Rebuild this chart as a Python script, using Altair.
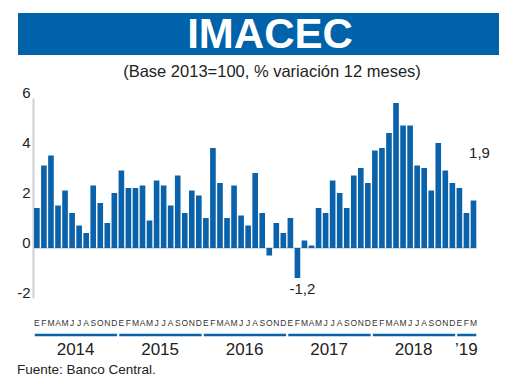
import altair as alt
import pandas as pd

# Monthly IMACEC, % change 12 months, Jan 2014 - Mar 2019
VALUES = [
    1.6, 3.3, 3.7, 1.7, 2.3, 1.4, 0.9, 0.6, 2.5, 1.8, 1.0, 2.2,   # 2014
    3.1, 2.4, 2.4, 2.5, 1.1, 2.7, 2.5, 1.7, 2.9, 1.4, 2.3, 2.1,   # 2015
    1.2, 4.0, 2.6, 1.2, 2.5, 1.3, 0.9, 3.0, 1.4, -0.3, 1.0, 0.6,  # 2016
    1.2, -1.2, 0.3, 0.1, 1.6, 1.4, 2.7, 2.2, 1.6, 2.9, 3.2, 2.6,  # 2017
    3.9, 4.0, 4.6, 5.8, 4.9, 4.9, 3.3, 3.2, 2.3, 4.2, 3.1, 2.6,   # 2018
    2.4, 1.4, 1.9,                                                # 2019
]
MONTH_LETTERS = ["E", "F", "M", "A", "M", "J", "J", "A", "S", "O", "N", "D"]
YEARS = ["2014", "2015", "2016", "2017", "2018", "\u201919"]
YEAR_START = [0, 12, 24, 36, 48, 60]
YEAR_END = [11, 23, 35, 47, 59, 62]
Y_TICKS = [-2, 0, 2, 4, 6]
ANNOT_MIN = {"idx": 37, "label": "-1,2"}
ANNOT_LAST = {"idx": 62, "label": "1,9"}

BLUE = "#0a62ab"
GRAY = "#cfcfcf"
FONT = "Liberation Sans"

df = pd.DataFrame({"idx": list(range(len(VALUES))), "value": VALUES})
df["month"] = [MONTH_LETTERS[i % 12] for i in df.idx]
years = pd.DataFrame({"label": YEARS, "s": YEAR_START, "e": YEAR_END})
one = pd.DataFrame({"a": [0]})

W, H = 444, 200
xscale = alt.Scale(domain=[-0.55, 62.5], nice=False, zero=False)
yscale = alt.Scale(domain=[-2, 6], nice=False)

bars = alt.Chart(df).transform_calculate(
    x0="datum.idx - 0.4", x1="datum.idx + 0.4"
).mark_bar(color=BLUE).encode(
    x=alt.X("x0:Q", scale=xscale, axis=None),
    x2="x1:Q",
    y=alt.Y("value:Q", scale=yscale, axis=alt.Axis(
        values=Y_TICKS, labelExpr="'' + datum.value",
        grid=False, ticks=False, title=None,
        domainColor=GRAY, domainWidth=2,
        labelFont=FONT, labelFontSize=15, labelColor="#222222",
        labelPadding=3, labelOffset=-6)),
    y2=alt.datum(0),
)

months = alt.Chart(df).mark_text(
    font=FONT, fontSize=8.5, color="#333333", baseline="middle"
).encode(x=alt.X("idx:Q", scale=xscale, axis=None), y=alt.value(225), text="month:N")

zero = alt.Chart(one).mark_rule(color=GRAY, strokeWidth=1.5).encode(
    y=alt.datum(0), x=alt.value(0), x2=alt.value(W)
)

ann_min = alt.Chart(df[df.idx == ANNOT_MIN["idx"]]).mark_text(
    text=ANNOT_MIN["label"], font=FONT, fontSize=15, color="#222222",
    baseline="middle", dx=5, dy=11
).encode(x=alt.X("idx:Q", scale=xscale, axis=None), y=alt.Y("value:Q"))

ann_last = alt.Chart(df[df.idx == ANNOT_LAST["idx"]]).mark_text(
    text=ANNOT_LAST["label"], font=FONT, fontSize=15, color="#222222",
    baseline="middle", dx=6, dy=-48
).encode(x=alt.X("idx:Q", scale=xscale, axis=None), y=alt.Y("value:Q"))

ylines = alt.Chart(years).transform_calculate(
    xs="datum.s - 0.3", xe="datum.e + 0.4"
).mark_rule(color=BLUE, strokeWidth=2.5).encode(
    x=alt.X("xs:Q", scale=xscale, axis=None), x2="xe:Q", y=alt.value(237)
)

ylabels = alt.Chart(years).transform_calculate(
    xc="(datum.s + datum.e) / 2"
).mark_text(font=FONT, fontSize=17, color="#222222", baseline="alphabetic").encode(
    x=alt.X("xc:Q", scale=xscale, axis=None), y=alt.value(257), text="label:N"
)

banner = alt.Chart(one).mark_rect(color="#0062a8").encode(
    x=alt.value(-15), x2=alt.value(466), y=alt.value(-85), y2=alt.value(-43)
)
title = alt.Chart(one).mark_text(
    text="IMACEC", font=FONT, fontSize=42, fontWeight="bold", color="white",
    baseline="alphabetic", align="center"
).encode(x=alt.value(237), y=alt.value(-50))
subtitle = alt.Chart(one).mark_text(
    text="(Base 2013=100, % variación 12 meses)", font=FONT, fontSize=16.5,
    color="#222222", baseline="alphabetic", align="center"
).encode(x=alt.value(239), y=alt.value(-21))
source = alt.Chart(one).mark_text(
    text="Fuente: Banco Central.", font=FONT, fontSize=13.5,
    color="#222222", baseline="alphabetic", align="left"
).encode(x=alt.value(-16), y=alt.value(276))

chart = alt.layer(
    banner, title, subtitle, zero, bars, months, ann_min, ann_last, ylines, ylabels, source
).properties(
    width=W, height=H, autosize="none",
    padding={"left": 25, "top": 90, "right": 35, "bottom": 84},
).configure_view(stroke=None)

chart.save("out.html", embed_options={"renderer": "svg", "actions": False})
